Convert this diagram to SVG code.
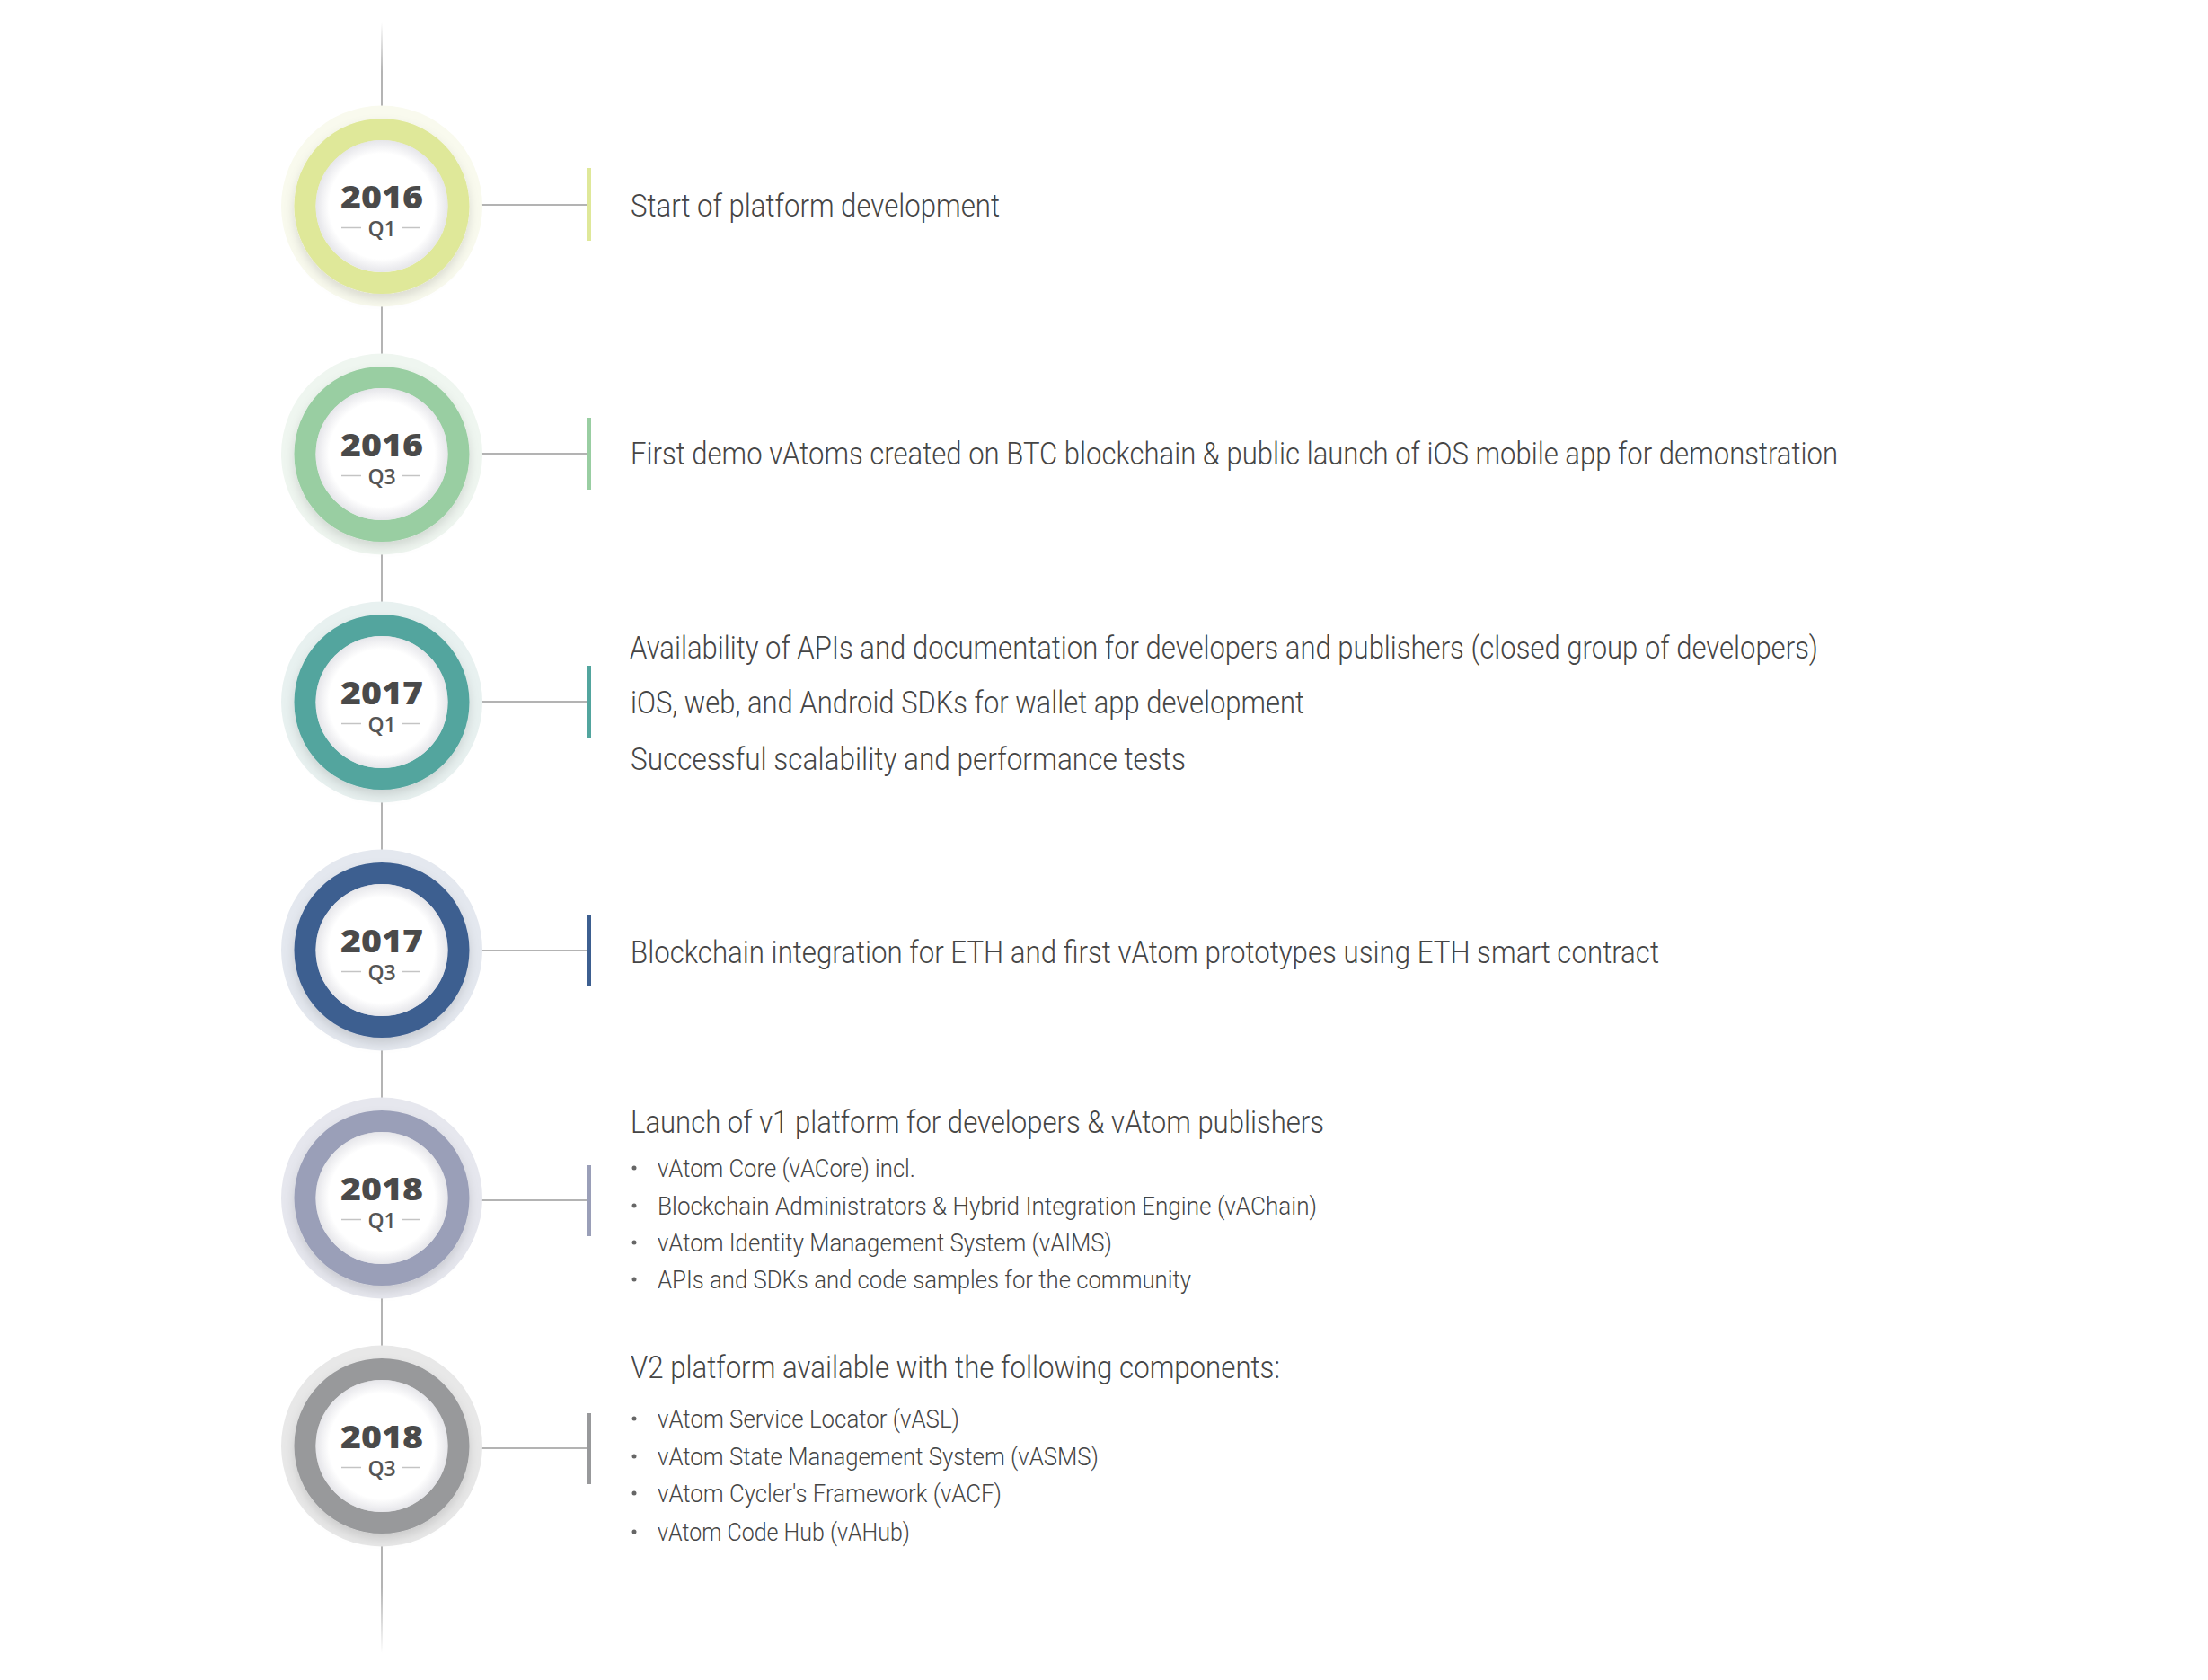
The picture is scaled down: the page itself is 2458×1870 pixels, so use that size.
<svg xmlns="http://www.w3.org/2000/svg" width="2458" height="1870" viewBox="0 0 2458 1870">
<style>
.yr{font-family:"Open Sans","Lato","DejaVu Sans",sans-serif;font-weight:800;font-size:36px;fill:#4a4a4a;text-anchor:middle}
.q{font-family:"Open Sans","Lato","DejaVu Sans",sans-serif;font-weight:600;font-size:23px;fill:#555;text-anchor:middle}
.dash{stroke:#c4c4c4;stroke-width:1.5}
.t{font-family:"Roboto","Liberation Sans",sans-serif;font-weight:300;font-size:35px;fill:#454545}
.b{font-family:"Roboto","Liberation Sans",sans-serif;font-weight:300;font-size:27px;fill:#454545}
.conn{stroke:#9a9a9a;stroke-width:1.5;fill:none}
.dot{fill:#666}
.inner{fill:url(#inner)}
.ring{fill:none;stroke-width:24;filter:url(#ds)}
</style>
<defs>
<linearGradient id="vline" gradientUnits="userSpaceOnUse" x1="0" y1="25" x2="0" y2="1840">
<stop offset="0" stop-color="#b4b4b4" stop-opacity="0"/>
<stop offset="0.03" stop-color="#b4b4b4" stop-opacity="1"/>
<stop offset="0.96" stop-color="#b4b4b4" stop-opacity="1"/>
<stop offset="1" stop-color="#b4b4b4" stop-opacity="0"/>
</linearGradient>
<radialGradient id="inner" cx="0.5" cy="0.5" r="0.5">
<stop offset="0" stop-color="#ffffff"/>
<stop offset="0.8" stop-color="#ffffff"/>
<stop offset="1" stop-color="#e6e6ea"/>
</radialGradient>
<filter id="ds" x="-30%" y="-30%" width="160%" height="160%">
<feDropShadow dx="0" dy="6" stdDeviation="6" flood-color="#000" flood-opacity="0.13"/>
</filter>
</defs>

<g id="connectors">
<line x1="425" y1="25" x2="425" y2="1840" stroke="url(#vline)" stroke-width="2"/>
<line class="conn" x1="522" y1="228" x2="653" y2="228"/>
<line class="conn" x1="522" y1="505" x2="653" y2="505"/>
<line class="conn" x1="522" y1="781" x2="653" y2="781"/>
<line class="conn" x1="522" y1="1058" x2="653" y2="1058"/>
<line class="conn" x1="522" y1="1336" x2="653" y2="1336"/>
<line class="conn" x1="522" y1="1612" x2="653" y2="1612"/>
</g>

<g id="node-2016-q1">
<g transform="translate(425,229.5)">
<circle r="112" fill="#f9faee"/>
<circle class="ring" r="85.5" stroke="#dfe899"/>
<circle class="inner" r="73.5"/>
<text class="yr" y="2" textLength="92" lengthAdjust="spacingAndGlyphs">2016</text>
<line class="dash" x1="-45" y1="24" x2="-23" y2="24"/><line class="dash" x1="22" y1="24" x2="43" y2="24"/>
<text class="q" y="33">Q1</text>
</g>
<rect x="653" y="187" width="5" height="81" fill="#dfe899"/>
<text class="t" x="702" y="241" textLength="411" lengthAdjust="spacingAndGlyphs">Start of platform development</text>
</g>

<g id="node-2016-q3">
<g transform="translate(425,505.5)">
<circle r="112" fill="#eff6f0"/>
<circle class="ring" r="85.5" stroke="#99cea2"/>
<circle class="inner" r="73.5"/>
<text class="yr" y="2" textLength="92" lengthAdjust="spacingAndGlyphs">2016</text>
<line class="dash" x1="-45" y1="24" x2="-23" y2="24"/><line class="dash" x1="22" y1="24" x2="43" y2="24"/>
<text class="q" y="33">Q3</text>
</g>
<rect x="653" y="465" width="5" height="80" fill="#99cea2"/>
<text class="t" x="702" y="517" textLength="1344" lengthAdjust="spacingAndGlyphs">First demo vAtoms created on BTC blockchain &amp; public launch of iOS mobile app for demonstration</text>
</g>

<g id="node-2017-q1">
<g transform="translate(425,781.5)">
<circle r="112" fill="#e8f1f0"/>
<circle class="ring" r="85.5" stroke="#52a59e"/>
<circle class="inner" r="73.5"/>
<text class="yr" y="2" textLength="92" lengthAdjust="spacingAndGlyphs">2017</text>
<line class="dash" x1="-45" y1="24" x2="-23" y2="24"/><line class="dash" x1="22" y1="24" x2="43" y2="24"/>
<text class="q" y="33">Q1</text>
</g>
<rect x="653" y="741" width="5" height="80" fill="#52a59e"/>
<text class="t" x="701" y="733" textLength="1323" lengthAdjust="spacingAndGlyphs">Availability of APIs and documentation for developers and publishers (closed group of developers)</text>
<text class="t" x="702" y="794" textLength="750" lengthAdjust="spacingAndGlyphs">iOS, web, and Android SDKs for wallet app development</text>
<text class="t" x="702" y="857" textLength="618" lengthAdjust="spacingAndGlyphs">Successful scalability and performance tests</text>
</g>

<g id="node-2017-q3">
<g transform="translate(425,1057.5)">
<circle r="112" fill="#e4e8ef"/>
<circle class="ring" r="85.5" stroke="#3d5f90"/>
<circle class="inner" r="73.5"/>
<text class="yr" y="2" textLength="92" lengthAdjust="spacingAndGlyphs">2017</text>
<line class="dash" x1="-45" y1="24" x2="-23" y2="24"/><line class="dash" x1="22" y1="24" x2="43" y2="24"/>
<text class="q" y="33">Q3</text>
</g>
<rect x="653" y="1018" width="5" height="80" fill="#3d5f90"/>
<text class="t" x="702" y="1072" textLength="1145" lengthAdjust="spacingAndGlyphs">Blockchain integration for ETH and first vAtom prototypes using ETH smart contract</text>
</g>

<g id="node-2018-q1">
<g transform="translate(425,1333.5)">
<circle r="112" fill="#e6e7ee"/>
<circle class="ring" r="85.5" stroke="#9a9fb8"/>
<circle class="inner" r="73.5"/>
<text class="yr" y="2" textLength="92" lengthAdjust="spacingAndGlyphs">2018</text>
<line class="dash" x1="-45" y1="24" x2="-23" y2="24"/><line class="dash" x1="22" y1="24" x2="43" y2="24"/>
<text class="q" y="33">Q1</text>
</g>
<rect x="653" y="1297" width="5" height="79" fill="#9a9fb8"/>
<text class="t" x="702" y="1261" textLength="772" lengthAdjust="spacingAndGlyphs">Launch of v1 platform for developers &amp; vAtom publishers</text>
<circle class="dot" cx="706" cy="1300" r="2.5"/>
<circle class="dot" cx="706" cy="1342" r="2.5"/>
<circle class="dot" cx="706" cy="1383" r="2.5"/>
<circle class="dot" cx="706" cy="1424" r="2.5"/>
<text class="b" x="732" y="1310" textLength="287" lengthAdjust="spacingAndGlyphs">vAtom Core (vACore) incl.</text>
<text class="b" x="732" y="1352" textLength="734" lengthAdjust="spacingAndGlyphs">Blockchain Administrators &amp; Hybrid Integration Engine (vAChain)</text>
<text class="b" x="732" y="1393" textLength="506" lengthAdjust="spacingAndGlyphs">vAtom Identity Management System (vAIMS)</text>
<text class="b" x="732" y="1434" textLength="594" lengthAdjust="spacingAndGlyphs">APIs and SDKs and code samples for the community</text>
</g>

<g id="node-2018-q3">
<g transform="translate(425,1609.5)">
<circle r="112" fill="#e8e8e8"/>
<circle class="ring" r="85.5" stroke="#98999b"/>
<circle class="inner" r="73.5"/>
<text class="yr" y="2" textLength="92" lengthAdjust="spacingAndGlyphs">2018</text>
<line class="dash" x1="-45" y1="24" x2="-23" y2="24"/><line class="dash" x1="22" y1="24" x2="43" y2="24"/>
<text class="q" y="33">Q3</text>
</g>
<rect x="653" y="1573" width="5" height="79" fill="#98999b"/>
<text class="t" x="702" y="1534" textLength="723" lengthAdjust="spacingAndGlyphs">V2 platform available with the following components:</text>
<circle class="dot" cx="706" cy="1579" r="2.5"/>
<circle class="dot" cx="706" cy="1621" r="2.5"/>
<circle class="dot" cx="706" cy="1662" r="2.5"/>
<circle class="dot" cx="706" cy="1705" r="2.5"/>
<text class="b" x="732" y="1589" textLength="336" lengthAdjust="spacingAndGlyphs">vAtom Service Locator (vASL)</text>
<text class="b" x="732" y="1631" textLength="491" lengthAdjust="spacingAndGlyphs">vAtom State Management System (vASMS)</text>
<text class="b" x="732" y="1672" textLength="383" lengthAdjust="spacingAndGlyphs">vAtom Cycler's Framework (vACF)</text>
<text class="b" x="732" y="1715" textLength="281" lengthAdjust="spacingAndGlyphs">vAtom Code Hub (vAHub)</text>
</g>
</svg>
